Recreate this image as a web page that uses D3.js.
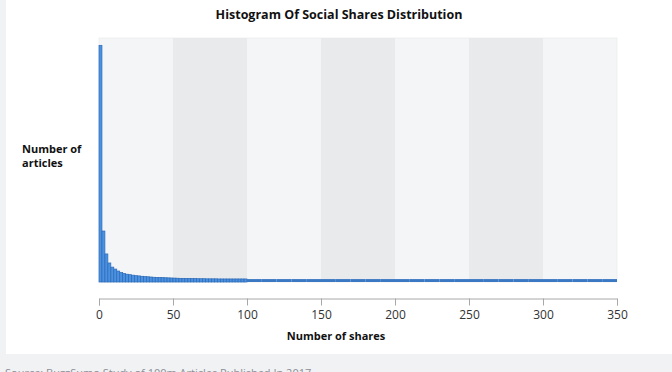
<!DOCTYPE html>
<html>
<head>
<meta charset="utf-8">
<script src="https://cdn.jsdelivr.net/npm/d3@7"></script>
<style>
  html, body { margin: 0; padding: 0; background: #f1f2f4; }
  svg { display: block; font-family: "Open Sans", sans-serif; }
</style>
</head>
<body>
<svg id="chart" width="672" height="372"></svg>
<script>
// share bins of width 2 from 0 to 100, then bins of width 10 up to 350
const headBinWidth = 2;
const headCounts = [
  97, 20.9, 11.5, 7.8, 6.1, 5.3, 4.5, 3.9, 3.5, 3.2,
  3.0, 2.8, 2.6, 2.5, 2.35, 2.25, 2.15, 2.05, 1.95, 1.9,
  1.85, 1.8, 1.75, 1.7, 1.65, 1.6, 1.55, 1.5, 1.5, 1.45,
  1.45, 1.4, 1.4, 1.35, 1.35, 1.35, 1.3, 1.3, 1.3, 1.3,
  1.25, 1.25, 1.25, 1.25, 1.25, 1.25, 1.25, 1.25, 1.25, 1.25
];
const tailBinWidth = 10;
const tailCounts = [
  1.2, 1.2, 1.2, 1.2, 1.2, 1.2, 1.2, 1.2, 1.2, 1.2,
  1.2, 1.2, 1.2, 1.2, 1.2, 1.2, 1.2, 1.2, 1.2, 1.2,
  1.2, 1.2, 1.2, 1.2, 1.2
];
const xTicks = [0, 50, 100, 150, 200, 250, 300, 350];
const bandStarts = [0, 50, 100, 150, 200, 250, 300];

const headEnd = headCounts.length * headBinWidth;
const bins = headCounts.map((c, i) => ({x0: i * headBinWidth, x1: (i + 1) * headBinWidth, count: c}))
  .concat(tailCounts.map((c, i) => ({x0: headEnd + i * tailBinWidth, x1: headEnd + (i + 1) * tailBinWidth, count: c})));

const svg = d3.select("#chart");
const margin = {left: 99, right: 55, top: 38, bottom: 90};
const width = 672, height = 372;

// card
svg.append("rect")
  .attr("x", 6).attr("y", 0)
  .attr("width", width - 6).attr("height", 354)
  .attr("fill", "#fff");

const x = d3.scaleLinear().domain([0, 350]).range([margin.left, width - margin.right]);
const y = d3.scaleLinear().domain([0, 100]).range([282, margin.top]);

// alternating bands
svg.append("g").selectAll("rect")
  .data(bandStarts)
  .join("rect")
  .attr("x", d => x(d))
  .attr("y", margin.top)
  .attr("width", d => x(d + 50) - x(d))
  .attr("height", y(0) - margin.top)
  .attr("fill", (d, i) => i % 2 ? "#e9eaeb" : "#f4f5f6");

svg.append("rect")
  .attr("x", x(0)).attr("y", margin.top)
  .attr("width", x(350) - x(0)).attr("height", y(0) - margin.top)
  .attr("fill", "none").attr("stroke", "#e6e7e8").attr("stroke-width", 0.6);

// bars
svg.append("g").selectAll("rect")
  .data(bins)
  .join("rect")
  .attr("x", d => x(d.x0))
  .attr("y", d => y(d.count))
  .attr("width", d => x(d.x1) - x(d.x0))
  .attr("height", d => y(0) - y(d.count))
  .attr("fill", d => d.x0 < headEnd ? "#4a91e2" : "#3b78c4")
  .attr("stroke", "#2d6ab6")
  .attr("stroke-width", d => d.x0 < headEnd ? 0.7 : 0);

// x axis
const axis = svg.append("g")
  .attr("transform", "translate(0,298.5)")
  .call(d3.axisBottom(x).tickValues(xTicks).tickSize(7).tickSizeOuter(7).tickPadding(5));
axis.selectAll("path, line").attr("stroke", "#a8a8a8");
axis.selectAll("text")
  .attr("fill", "#333")
  .style("font-size", "12px")
  .style("font-family", "'Open Sans', sans-serif");

// titles
svg.append("text")
  .attr("x", 339).attr("y", 19)
  .attr("text-anchor", "middle")
  .attr("font-weight", "bold")
  .attr("font-size", "12.5px")
  .attr("fill", "#111")
  .text("Histogram Of Social Shares Distribution");

svg.append("text")
  .attr("x", 336).attr("y", 340)
  .attr("text-anchor", "middle")
  .attr("font-weight", "bold")
  .attr("font-size", "11px")
  .attr("fill", "#111")
  .text("Number of shares");

const yTitle = svg.append("text")
  .attr("x", 22).attr("y", 153)
  .attr("font-weight", "bold")
  .attr("font-size", "11px")
  .attr("fill", "#111");
yTitle.append("tspan").attr("x", 22).text("Number of");
yTitle.append("tspan").attr("x", 22).attr("dy", 14).text("articles");

svg.append("text")
  .attr("x", 5).attr("y", 377)
  .attr("font-size", "11px")
  .attr("fill", "#8a8f96")
  .text("Source: BuzzSumo Study of 100m Articles Published In 2017");
</script>
</body>
</html>
